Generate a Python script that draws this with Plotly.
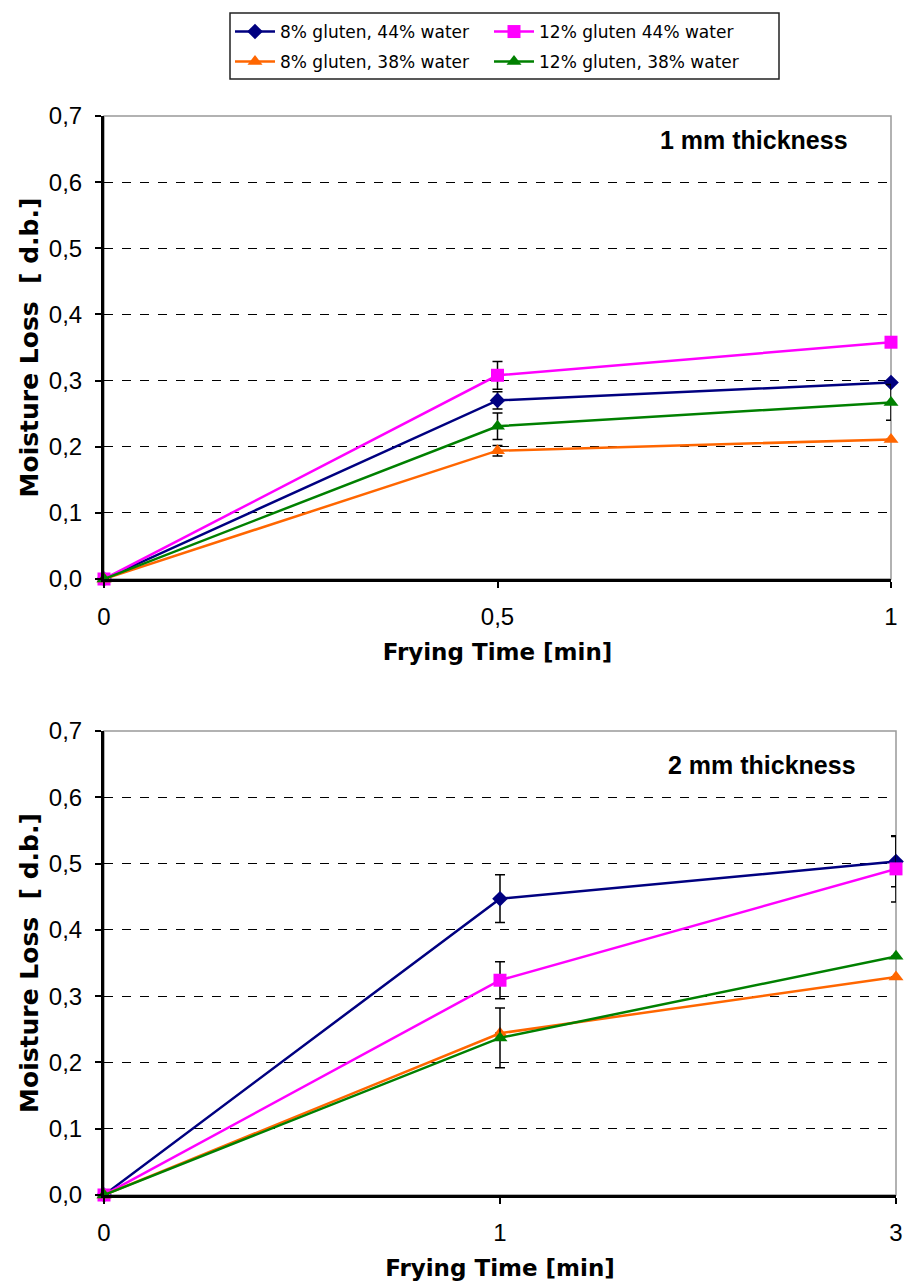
import plotly.graph_objects as go

# ---- data ----
names = ["8% gluten, 44% water", "12% gluten 44% water", "8% gluten, 38% water", "12% gluten, 38% water"]
colors = ["#000080", "#FF00FF", "#FF6600", "#008000"]
symbols = ["diamond", "square", "triangle-up", "triangle-up"]
legend_ids = ["legend", "legend", "legend2", "legend2"]

x1_labels = ["0", "0,5", "1"]
top_vals = {
    "8% gluten, 44% water": [0.0, 0.270, 0.297],
    "12% gluten 44% water": [0.0, 0.308, 0.358],
    "8% gluten, 38% water": [0.0, 0.194, 0.211],
    "12% gluten, 38% water": [0.0, 0.231, 0.267],
}
top_err = {
    "8% gluten, 44% water": [0.0, 0.013, 0.0],
    "12% gluten 44% water": [0.0, 0.021, 0.0],
    "8% gluten, 38% water": [0.0, 0.008, 0.0],
    "12% gluten, 38% water": [0.0, 0.02, 0.027],
}

x2_labels = ["0", "1", "3"]
bot_vals = {
    "8% gluten, 44% water": [0.0, 0.447, 0.503],
    "12% gluten 44% water": [0.0, 0.324, 0.492],
    "8% gluten, 38% water": [0.0, 0.244, 0.329],
    "12% gluten, 38% water": [0.0, 0.237, 0.360],
}
bot_err = {
    "8% gluten, 44% water": [0.0, 0.036, 0.038],
    "12% gluten 44% water": [0.0, 0.028, 0.05],
    "8% gluten, 38% water": [0.0, 0.0, 0.0],
    "12% gluten, 38% water": [0.0, 0.045, 0.0],
}

y_ticks = [0.0, 0.1, 0.2, 0.3, 0.4, 0.5, 0.6, 0.7]
y_ticktext = ["0,0", "0,1", "0,2", "0,3", "0,4", "0,5", "0,6", "0,7"]

W, H = 905, 1283
TICKFONT = "Liberation Sans Narrow, Arial Narrow, Liberation Sans, sans-serif"
TITLEFONT = "DejaVu Sans, Verdana, sans-serif"
ANNFONT = "Liberation Sans, Arial, sans-serif"
LFONT = "DejaVu Sans, Verdana, sans-serif"


def fx(p):
    return min(max(p / W, 0.0), 1.0)


def fy(p):
    return min(max(1 - p / H, 0.0), 1.0)


fig = go.Figure()
idx = [0, 1, 2]
for i, n in enumerate(names):
    for vals, errs, xa, ya, show in [(top_vals, top_err, "x", "y", True), (bot_vals, bot_err, "x2", "y2", False)]:
        fig.add_trace(go.Scatter(
            x=idx, y=vals[n], xaxis=xa, yaxis=ya, name=n, showlegend=show,
            legend=legend_ids[i],
            mode="lines+markers", cliponaxis=False,
            line=dict(color=colors[i], width=2.5),
            marker=dict(symbol=symbols[i], size=13 if symbols[i] != "diamond" else 12, color=colors[i]),
            error_y=dict(type="data", array=errs[n], visible=True, color="black", thickness=1.5, width=5),
        ))

axis_common_y = dict(
    range=[0, 0.7], tickvals=y_ticks, ticktext=y_ticktext, automargin=False,
    showgrid=True, gridcolor="black", griddash="dash", gridwidth=1,
    showline=True, linecolor="black", linewidth=3, ticks="outside", ticklen=6, tickwidth=2,
    tickcolor="black", tickfont=dict(family=TICKFONT, size=24, color="black"), zeroline=False,
    ticklabelstandoff=8,
)
axis_common_x = dict(
    range=[0, 2], tickvals=idx, showgrid=False, zeroline=False, automargin=False,
    showline=True, linecolor="black", linewidth=3, ticks="outside", ticklen=6, tickwidth=2,
    tickcolor="black", tickfont=dict(family=TICKFONT, size=24, color="black"),
    ticklabelstandoff=8, ticklabeloverflow="allow",
)
xtitle_font = dict(family=TITLEFONT, size=23, color="black", weight="bold")
ytitle_font = dict(family=TITLEFONT, size=25, color="black", weight="bold")

legend_common = dict(
    orientation="h", xanchor="left", x=fx(230), yanchor="middle",
    borderwidth=0, bgcolor="rgba(0,0,0,0)",
    font=dict(family=LFONT, size=17, color="black"),
    entrywidth=204, entrywidthmode="pixels", itemwidth=40,
)

fig.update_layout(
    width=W, height=H, margin=dict(l=0, r=0, t=0, b=0, autoexpand=False),
    paper_bgcolor="white", plot_bgcolor="white",
    xaxis=dict(axis_common_x, domain=[fx(104), fx(891)], ticktext=x1_labels, anchor="y",
               title=dict(text="Frying Time [min]", font=xtitle_font, standoff=16)),
    yaxis=dict(axis_common_y, domain=[fy(579), fy(116)], anchor="x",
               title=dict(text="Moisture Loss  [ d.b.]", font=ytitle_font, standoff=4)),
    xaxis2=dict(axis_common_x, domain=[fx(104), fx(896)], ticktext=x2_labels, anchor="y2",
                title=dict(text="Frying Time [min]", font=xtitle_font, standoff=16)),
    yaxis2=dict(axis_common_y, domain=[fy(1195), fy(731)], anchor="x2",
                title=dict(text="Moisture Loss  [ d.b.]", font=ytitle_font, standoff=4)),
    legend=dict(legend_common, y=fy(32)),
    legend2=dict(legend_common, y=fy(62)),
    shapes=[
        dict(type="rect", xref="paper", yref="paper", x0=fx(230), x1=fx(779),
             y0=fy(79), y1=fy(13), line=dict(color="#222222", width=1.5)),
        dict(type="rect", xref="x domain", yref="y domain", x0=0, x1=1, y0=0, y1=1,
             line=dict(color="#999999", width=1.5), layer="below"),
        dict(type="rect", xref="x2 domain", yref="y2 domain", x0=0, x1=1, y0=0, y1=1,
             line=dict(color="#999999", width=1.5), layer="below"),
    ],
    annotations=[
        dict(text="1 mm thickness", xref="x domain", yref="y domain", x=0.948, y=0.948,
             xanchor="right", yanchor="middle", showarrow=False,
             font=dict(family=ANNFONT, size=25, color="black", weight="bold")),
        dict(text="2 mm thickness", xref="x2 domain", yref="y2 domain", x=0.952, y=0.927,
             xanchor="right", yanchor="middle", showarrow=False,
             font=dict(family=ANNFONT, size=25, color="black", weight="bold")),
    ],
)

fig.write_html("out.html", post_script="document.body.style.margin='0';")
